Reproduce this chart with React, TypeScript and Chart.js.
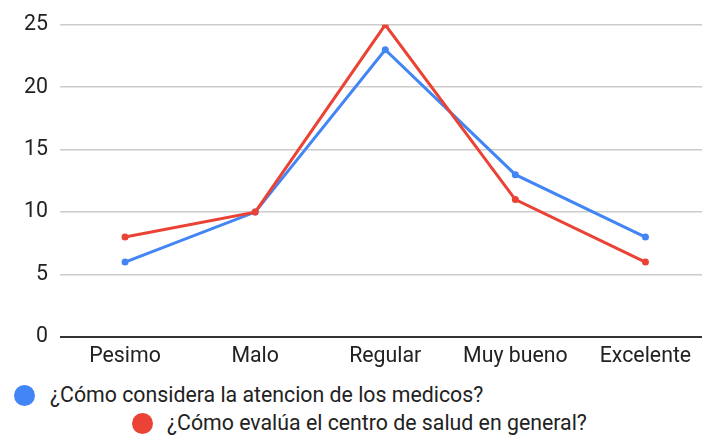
import React, { useEffect, useRef } from "react";
import { Chart, registerables } from "chart.js";

Chart.register(...registerables);

const categories = ["Pesimo", "Malo", "Regular", "Muy bueno", "Excelente"];
const seriesNames = [
  "¿Cómo considera la atencion de los medicos?",
  "¿Cómo evalúa el centro de salud en general?",
];
const medicosValues = [6, 10, 23, 13, 8];
const centroValues = [8, 10, 25, 11, 6];
const seriesColors = ["#4285f4", "#ea4335"];
const yMin = 0;
const yMax = 25;
const yStep = 5;

const FONT = "Roboto, 'Liberation Sans', Arial, sans-serif";
const FS = 21.3;

export default function App() {
  const ref = useRef<HTMLCanvasElement | null>(null);

  useEffect(() => {
    if (!ref.current) return;
    const chart = new Chart(ref.current, {
      type: "line",
      data: {
        labels: categories,
        datasets: [
          {
            label: seriesNames[0],
            data: medicosValues,
            borderColor: seriesColors[0],
            backgroundColor: seriesColors[0],
            borderWidth: 3,
            pointRadius: 3.5,
            pointBorderWidth: 0,
            pointHoverRadius: 3.5,
            tension: 0,
            order: 1,
          },
          {
            label: seriesNames[1],
            data: centroValues,
            borderColor: seriesColors[1],
            backgroundColor: seriesColors[1],
            borderWidth: 3,
            pointRadius: 3.5,
            pointBorderWidth: 0,
            pointHoverRadius: 3.5,
            tension: 0,
            order: 0,
          },
        ],
      },
      options: {
        animation: false,
        responsive: true,
        maintainAspectRatio: false,
        layout: { padding: { top: 22, left: 0, right: 0, bottom: 0 } },
        plugins: {
          legend: { display: false },
          tooltip: { enabled: false },
        },
        scales: {
          x: {
            offset: true,
            grid: { display: false, drawTicks: false },
            border: { display: false },
            ticks: {
              color: "#222",
              font: { family: FONT, size: FS },
              padding: 7,
              maxRotation: 0,
              autoSkip: false,
            },
            afterFit: (scale: any) => {
              scale.height = 35;
            },
          },
          y: {
            min: yMin,
            max: yMax,
            grid: {
              drawTicks: false,
              color: (ctx: any) => (ctx.tick && ctx.tick.value === 0 ? "#333" : "#cccccc"),
              lineWidth: (ctx: any) => (ctx.tick && ctx.tick.value === 0 ? 2 : 1.5),
            },
            border: { display: false },
            ticks: {
              stepSize: yStep,
              color: "#222",
              font: { family: FONT, size: FS },
              padding: 12,
            },
            afterFit: (scale: any) => {
              scale.width = 60;
            },
          },
        },
      },
    });
    return () => chart.destroy();
  }, []);

  const legendItems = [
    { left: 14, top: 385, textLeft: 50 },
    { left: 132, top: 413, textLeft: 167 },
  ];

  return (
    <div
      style={{
        position: "absolute",
        left: 0,
        top: 0,
        width: 702,
        height: 435,
        overflow: "hidden",
        background: "#fff",
        fontFamily: FONT,
      }}
    >
      <div style={{ position: "absolute", left: 0, top: 0, width: 714, height: 372 }}>
        <canvas ref={ref} />
      </div>
      {seriesNames.map((name, i) => (
        <React.Fragment key={name}>
          <div
            style={{
              position: "absolute",
              left: legendItems[i].left,
              top: legendItems[i].top,
              width: 21,
              height: 21,
              borderRadius: "50%",
              background: seriesColors[i],
            }}
          />
          <div
            style={{
              position: "absolute",
              left: legendItems[i].textLeft,
              top: legendItems[i].top - 2,
              fontSize: FS,
              lineHeight: "24px",
              color: "#222",
              whiteSpace: "nowrap",
            }}
          >
            {name}
          </div>
        </React.Fragment>
      ))}
    </div>
  );
}
